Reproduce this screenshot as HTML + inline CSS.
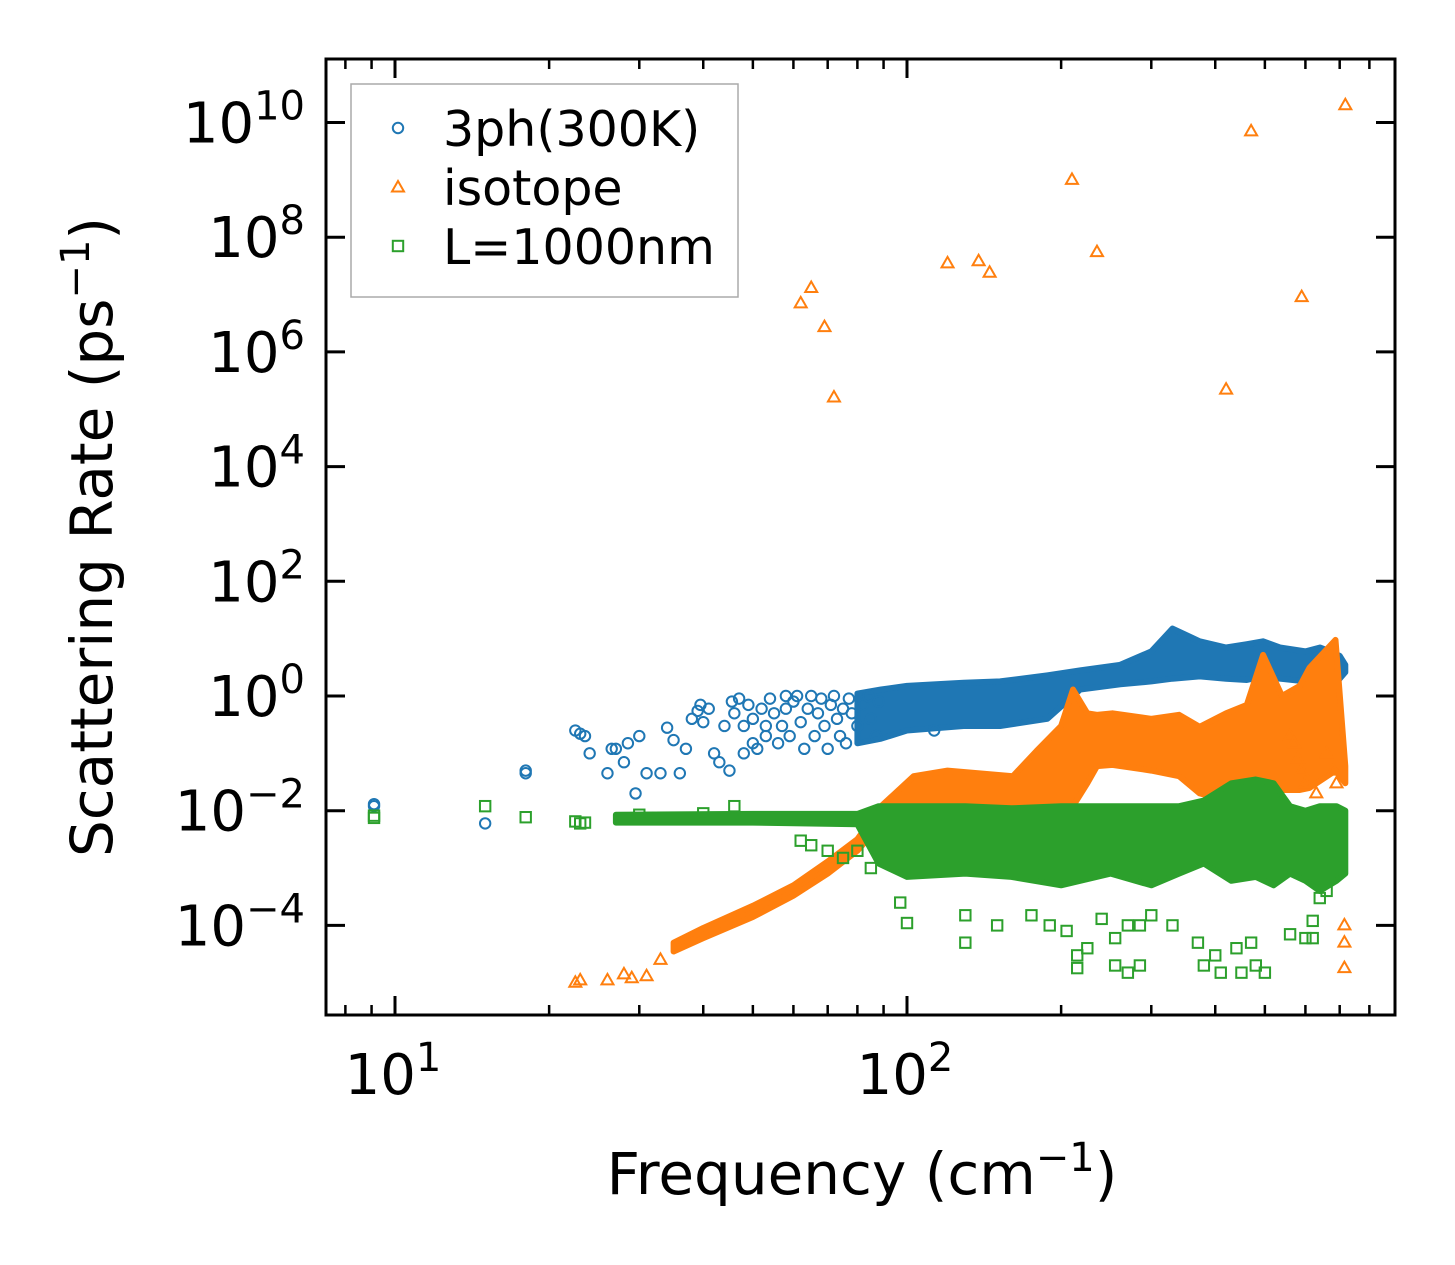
<!DOCTYPE html>
<html><head><meta charset="utf-8">
<style>
html,body{margin:0;padding:0;background:#fff;}
svg{display:block;font-family:"DejaVu Sans","Liberation Sans",sans-serif;}
</style></head>
<body>
<svg id="chart" width="1455" height="1265" viewBox="0 0 1455 1265" xmlns="http://www.w3.org/2000/svg">
<rect width="1455" height="1265" fill="#fff"/>
<g id="bands"></g>
<g id="points"></g>
<g id="axes"></g>
</svg>
<script>
// ---- data ----
const xMajorTicks = [10, 100];
const xMinorTicks = [8, 9, 20, 30, 40, 50, 60, 70, 80, 90, 200, 300, 400, 500, 600, 700, 800];
const yMajorExps = [-4, -2, 0, 2, 4, 6, 8, 10];

// blue: 3ph(300K)
const blueFreq = [9.1,9.1,15,18,18,22.5,23,23.5,24,26,26.5,27,28,28.5,29.5,30,31,33,34,35,36,37,38,39,39.5,40,41,42,43,44,45,45.5,
 46,47,48,48,49,50,50,51,52,53,53,54,55,56,57,58,58,59,60,61,62,63,64,65,66,67,68,69,70,71,72,73,74,75,76,77,78,80,82,84,85,87,88,113];
const blueRate = [0.013,0.012,0.006,0.05,0.045,0.25,0.22,0.2,0.1,0.045,0.12,0.12,0.07,0.15,0.02,0.2,0.045,0.045,0.28,0.17,0.045,0.12,0.4,0.55,0.7,0.35,0.6,0.1,0.07,0.3,0.05,0.8,
 0.5,0.9,0.3,0.1,0.7,0.4,0.15,0.12,0.6,0.3,0.2,0.9,0.5,0.15,0.3,1.0,0.6,0.2,0.8,1.0,0.35,0.12,0.6,1.0,0.2,0.5,0.9,0.3,0.12,0.7,1.0,0.4,0.2,0.6,0.15,0.9,0.5,0.3,0.7,1.0,0.4,0.2,0.8,0.25];
const blueBandFreq = [80,89,100,129,152,188,218,261,300,330,373,420,461,496,535,600,641,670,700,718];
const blueBandHi = [1.1,1.3,1.5,1.7,1.8,2.3,2.8,3.5,6,15,9,7,8,9,7,6,7,6,5,3.5];
const blueBandLo = [0.15,0.18,0.25,0.3,0.3,0.4,1.3,1.6,1.8,2.0,2.2,2.0,1.9,2.2,2.0,1.8,1.4,1.2,2.0,2.6];

// orange: isotope
const orangeFreq = [62,65,69,72,120,138,145,210,235,420,470,590,718,22.5,23,26,28,29,31,33,
 560,570,580,590,600,630,660,680,690,715,715,715];
const orangeRate = [7e6,1.3e7,2.7e6,1.6e5,3.5e7,3.8e7,2.4e7,1e9,5.5e7,2.2e5,7e9,9e6,2e10,1e-5,1.1e-5,1.1e-5,1.4e-5,1.2e-5,1.3e-5,2.5e-5,
 0.2,0.15,0.08,0.05,0.03,0.02,0.1,0.05,0.03,1e-4,5e-5,1.8e-5];
const orangeBandFreq = [35,40,50,60,70,80,89,103,120,161,179,200,211,225,235,252,300,340,373,420,461,496,540,585,611,687,718];
const orangeBandHi = [5e-5,9e-5,2.2e-4,5e-4,1.3e-3,3.2e-3,0.012,0.04,0.05,0.04,0.11,0.3,1.3,0.5,0.47,0.5,0.4,0.47,0.29,0.5,0.7,5.2,1.0,1.5,3.1,9.5,0.06];
const orangeBandLo = [3.5e-5,6e-5,1.4e-4,3.3e-4,8e-4,2e-3,0.006,0.008,0.01,0.01,0.01,0.012,0.012,0.03,0.06,0.063,0.05,0.04,0.02,0.015,0.015,0.02,0.023,0.023,0.025,0.05,0.03];

// green: L=1000nm
const greenFreq = [9.1,9.1,15,18,22.5,23,23.5,30,40,46,62,65,70,75,80,85,
 97,100,130,130,150,175,190,205,215,215,225,240,255,255,270,270,285,285,300,330,370,380,400,410,440,450,470,480,500,560,600,620,620,640,660];
const greenRate = [0.0075,0.0082,0.012,0.0077,0.0065,0.006,0.0062,0.0085,0.009,0.012,0.003,0.0025,0.002,0.0015,0.002,0.001,
 2.5e-4,1.1e-4,1.5e-4,5e-5,1e-4,1.5e-4,1e-4,8e-5,3e-5,1.8e-5,4e-5,1.3e-4,6e-5,2e-5,1e-4,1.5e-5,1e-4,2e-5,1.5e-4,1e-4,5e-5,2e-5,3e-5,1.5e-5,4e-5,1.5e-5,5e-5,2e-5,1.5e-5,7e-5,6e-5,6e-5,1.2e-4,3e-4,4e-4];
const greenBandFreq = [27,50,80,88,100,130,160,200,250,300,340,380,430,480,520,560,600,640,690,718];
const greenBandHi = [0.0085,0.0088,0.0088,0.012,0.012,0.012,0.011,0.012,0.012,0.012,0.012,0.015,0.03,0.035,0.03,0.012,0.01,0.012,0.012,0.01];
const greenBandLo = [0.0062,0.0062,0.0058,0.0012,0.0007,0.0008,0.0007,0.0005,0.0008,0.0005,0.0008,0.0012,0.0006,0.0007,0.0005,0.0008,0.0006,0.0004,0.0006,0.0008];

// ---- axes ----
const L = 326, R = 1395, T = 59, B = 1015;
function xs(f){ return 395 + (Math.log10(f) - 1) * 512; }
function ys(v){ return 696 - Math.log10(v) * 57.35; }
const NS = "http://www.w3.org/2000/svg";
function mk(tag, attrs, parent){ const e = document.createElementNS(NS, tag); for (const k in attrs) e.setAttribute(k, attrs[k]); parent.appendChild(e); return e; }

const bands = document.getElementById('bands');
const pts = document.getElementById('points');
const axes = document.getElementById('axes');

function band(fr, hi, lo, color, name){
  let d = '';
  fr.forEach((f,i)=>{ d += (i?'L':'M') + xs(f).toFixed(1) + ',' + ys(hi[i]).toFixed(1); });
  for (let i = fr.length-1; i >= 0; i--) d += 'L' + xs(fr[i]).toFixed(1) + ',' + ys(lo[i]).toFixed(1);
  d += 'Z';
  const p = mk('path', {d:d, fill:color, stroke:color, 'stroke-width':6, 'stroke-linejoin':'round'}, bands);
  
  
}
function marker(kind, x, y, color, parent){
  let e;
  if (kind === 'circle') e = mk('circle', {cx:x, cy:y, r:5.2, fill:'none', stroke:color, 'stroke-width':2}, parent);
  else if (kind === 'tri') e = mk('polygon', {points:`${x},${y-6.5} ${x-6},${y+4} ${x+6},${y+4}`, fill:'none', stroke:color, 'stroke-width':2}, parent);
  else e = mk('rect', {x:x-5.2, y:y-5.2, width:10.4, height:10.4, fill:'none', stroke:color, 'stroke-width':2}, parent);
  return e;
}
const BLUE = '#1f77b4', ORANGE = '#ff7f0e', GREEN = '#2ca02c';

band(blueBandFreq, blueBandHi, blueBandLo, BLUE, 'band-3ph');
blueFreq.forEach((f,i)=>{ const e = marker('circle', xs(f), ys(blueRate[i]), BLUE, pts);
  
   });
band(orangeBandFreq, orangeBandHi, orangeBandLo, ORANGE, 'band-isotope');
orangeFreq.forEach((f,i)=>{ const e = marker('tri', xs(f), ys(orangeRate[i]), ORANGE, pts);
  
   });
band(greenBandFreq, greenBandHi, greenBandLo, GREEN, 'band-boundary');
greenFreq.forEach((f,i)=>{ const e = marker('sq', xs(f), ys(greenRate[i]), GREEN, pts);
  
   });

// frame
const frame = mk('rect', {x:L, y:T, width:R-L, height:B-T, fill:'none', stroke:'#000', 'stroke-width':3}, axes);



xMajorTicks.forEach(t=>{
  const x = xs(t);
  mk('line', {x1:x, y1:B, x2:x, y2:B-19, stroke:'#000', 'stroke-width':3}, axes);
  mk('line', {x1:x, y1:T, x2:x, y2:T+19, stroke:'#000', 'stroke-width':3}, axes);
  const g = mk('text', {x:x-2, y:1094, 'font-size':56, 'text-anchor':'middle'}, axes);
  
  
  g.innerHTML = '10<tspan dy="-23" font-size="40">' + Math.round(Math.log10(t)) + '</tspan>';
});
xMinorTicks.forEach(t=>{
  const x = xs(t);
  if (x < L || x > R) return;
  mk('line', {x1:x, y1:B, x2:x, y2:B-10, stroke:'#000', 'stroke-width':2.5}, axes);
  mk('line', {x1:x, y1:T, x2:x, y2:T+10, stroke:'#000', 'stroke-width':2.5}, axes);
});
yMajorExps.forEach(e=>{
  const y = ys(Math.pow(10, e));
  mk('line', {x1:L, y1:y, x2:L+19, y2:y, stroke:'#000', 'stroke-width':3}, axes);
  mk('line', {x1:R, y1:y, x2:R-19, y2:y, stroke:'#000', 'stroke-width':3}, axes);
  const g = mk('text', {x:305, y:y+20, 'font-size':56, 'text-anchor':'end'}, axes);
  
  
  const ex = e < 0 ? '\u2212' + (-e) : '' + e;
  g.innerHTML = '10<tspan dy="-23" font-size="40">' + ex + '</tspan>';
});
</script>
<svg style="position:absolute;left:0;top:0" width="1455" height="1265" xmlns="http://www.w3.org/2000/svg">
<text x="862" y="1194" font-size="58" text-anchor="middle" font-family="DejaVu Sans,Liberation Sans,sans-serif">Frequency (cm<tspan dy="-23" font-size="40">−1</tspan><tspan dy="23">)</tspan></text>
<text transform="translate(112,537) rotate(-90)" font-size="58" text-anchor="middle" font-family="DejaVu Sans,Liberation Sans,sans-serif">Scattering Rate (ps<tspan dy="-23" font-size="40">−1</tspan><tspan dy="23">)</tspan></text>
<g>
<rect x="351" y="84" width="387" height="213" fill="#fff" fill-opacity="0.8" stroke="#aaa" stroke-width="1.5"/>
<circle cx="398" cy="128" r="5.2" fill="none" stroke="#1f77b4" stroke-width="2"/>
<text x="443" y="146" font-size="49" font-family="DejaVu Sans,Liberation Sans,sans-serif">3ph(300K)</text>
<polygon points="398,181 392,191.5 404,191.5" fill="none" stroke="#ff7f0e" stroke-width="2"/>
<text x="443" y="205" font-size="49" font-family="DejaVu Sans,Liberation Sans,sans-serif">isotope</text>
<rect x="392.8" y="240.8" width="10.4" height="10.4" fill="none" stroke="#2ca02c" stroke-width="2"/>
<text x="443" y="264" font-size="49" font-family="DejaVu Sans,Liberation Sans,sans-serif">L=1000nm</text>
</g>
</svg>
</body></html>
